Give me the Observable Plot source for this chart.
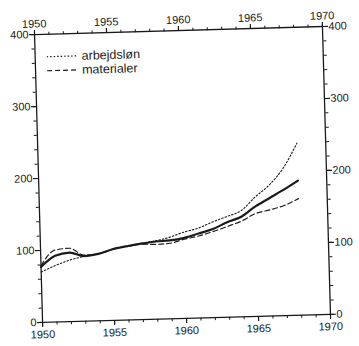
<!DOCTYPE html>
<html><head><meta charset="utf-8">
<script src="https://cdn.jsdelivr.net/npm/d3@7"></script>
<script src="https://cdn.jsdelivr.net/npm/@observablehq/plot@0.6"></script>
<style>
html,body{margin:0;padding:0;background:#fff;}
#wrap{position:relative;width:359px;height:346px;transform:rotate(-1.6deg);transform-origin:182px 174px;}
#legend{position:absolute;left:50px;top:46px;font-family:"Liberation Sans",Arial,sans-serif;font-size:12.5px;color:#1a1a1a;line-height:14px;}
#legend div{display:flex;align-items:center;height:14px;}
#legend svg{margin-right:4px;}
</style></head><body><div id="wrap"><div id="legend"></div></div>
<script>
const years = [1950,1951,1952,1953,1954,1955,1956,1957,1958,1959,1960,1961,1962,1963,1964,1965,1966,1967,1968];
const arbejdslon = [70,78.5,85.5,90,93,99,103,106,109,113.5,120,125,133,140,147.5,166,182,205,239];
const materialer = [79,100,102,92,93,99,102,105,104,105,110,114,119.5,126,133,143,147.5,153,162];
const total = [77,92,96,90.5,93,99,102.5,105.5,108,109,112,117.5,123,132,139,153,164,175,187];
const xTicks = [1950,1955,1960,1965,1970];
const xMinor = d3.range(1950,1971);
const yTicks = [0,100,200,300,400];
const yMinor = d3.range(0,401,20);
const legendLabels = ["arbejdsløn","materialer"];

const rows = years.map((y,i)=>({year:y, arb:arbejdslon[i], mat:materialer[i], tot:total[i]}));
const ink = "#1a1a1a";

const chart = Plot.plot({
  width: 359, height: 346,
  marginLeft: 38, marginRight: 33, marginTop: 30, marginBottom: 28,
  x: {domain:[1950,1970]},
  y: {domain:[0,400]},
  style: {fontFamily:"'Liberation Sans', Arial, sans-serif", fontSize:"11px", color:ink, background:"transparent"},
  marks: [
    Plot.frame({stroke:ink, strokeWidth:1.3}),
    Plot.axisX({anchor:"top", ticks:xTicks, tickSize:5, tickPadding:2, tickFormat:"d", label:null, strokeWidth:1.2}),
    Plot.axisX({anchor:"top", ticks:xMinor, tickSize:3, text:null, label:null}),
    Plot.axisX({anchor:"bottom", ticks:xTicks, tickSize:5, tickPadding:3, tickFormat:"d", label:null, strokeWidth:1.2}),
    Plot.axisX({anchor:"bottom", ticks:xMinor, tickSize:3, text:null, label:null}),
    Plot.axisY({anchor:"left", ticks:yTicks, tickSize:5, tickPadding:1, tickFormat:"d", label:null, strokeWidth:1.2}),
    Plot.axisY({anchor:"left", ticks:yMinor, tickSize:3, text:null, label:null}),
    Plot.axisY({anchor:"right", ticks:yTicks, tickSize:5, tickPadding:1, tickFormat:"d", label:null, strokeWidth:1.2}),
    Plot.axisY({anchor:"right", ticks:yMinor, tickSize:3, text:null, label:null}),
    Plot.line(rows, {x:"year", y:"arb", stroke:ink, strokeWidth:1.1, strokeDasharray:"1.5,2", curve:"monotone-x"}),
    Plot.line(rows, {x:"year", y:"mat", stroke:ink, strokeWidth:1.2, strokeDasharray:"5,3", curve:"monotone-x"}),
    Plot.line(rows, {x:"year", y:"tot", stroke:ink, strokeWidth:2.2, curve:"monotone-x"})
  ]
});
document.getElementById("wrap").prepend(chart);

const dashes = ["1.5,2","5,3"];
const leg = document.getElementById("legend");
legendLabels.forEach((lab,i)=>{
  const row = document.createElement("div");
  row.innerHTML = `<svg width="31" height="6"><line x1="0" x2="31" y1="3" y2="3" stroke="${ink}" stroke-width="1.2" stroke-dasharray="${dashes[i]}"/></svg><span>${lab}</span>`;
  leg.appendChild(row);
});
</script>
</body></html>
